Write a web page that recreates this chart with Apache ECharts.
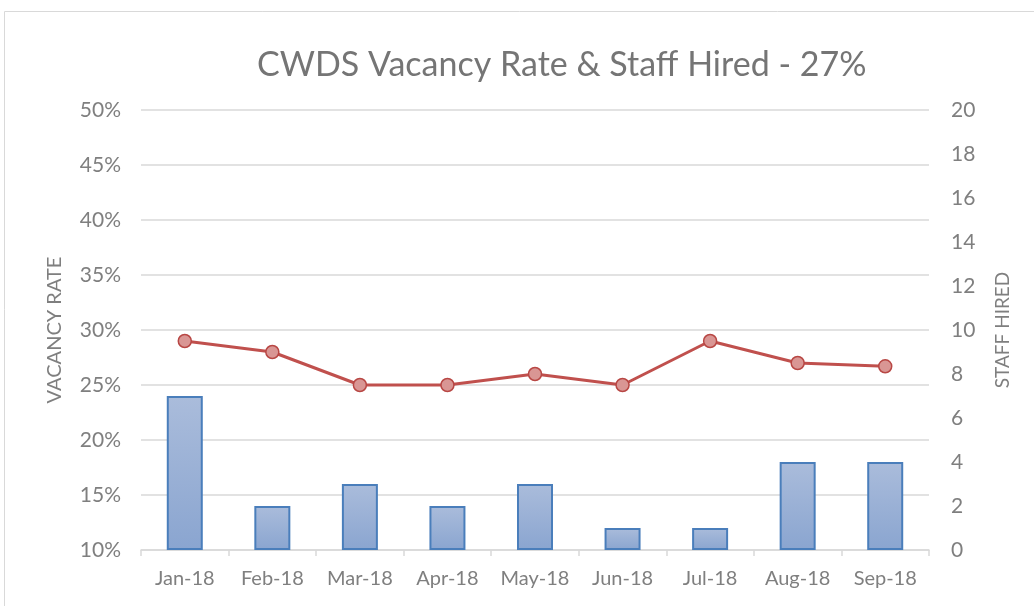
<!DOCTYPE html>
<html>
<head>
<meta charset="utf-8">
<script src="https://cdn.jsdelivr.net/npm/echarts@6/dist/echarts.min.js"></script>
<style>
  html, body { margin: 0; padding: 0; background: #fff; }
  #main { width: 1034px; height: 606px; }
</style>
</head>
<body>
<div id="main"></div>
<script>
const months = ["Jan-18", "Feb-18", "Mar-18", "Apr-18", "May-18", "Jun-18", "Jul-18", "Aug-18", "Sep-18"];
const vacancyRate = [29, 28, 25, 25, 26, 25, 29, 27, 26.7];
const staffHired = [7, 2, 3, 2, 3, 1, 1, 4, 4];

const font = "Lato";
const grey = "#7f7f7f";

const chart = echarts.init(document.getElementById("main"));

const option = {
  animation: false,
  textStyle: { fontFamily: font },
  title: {
    text: "CWDS Vacancy Rate & Staff Hired - 27%",
    left: 252,
    top: 43,
    textStyle: { fontFamily: font, fontSize: 34, fontWeight: "normal", color: "#757575" }
  },
  graphic: [{
    type: "rect",
    shape: { x: 4.5, y: 11.5, width: 1100, height: 700 },
    style: { fill: "none", stroke: "#d9d9d9", lineWidth: 1 },
    silent: true
  }],
  grid: { left: 141, right: 105, top: 110, bottom: 56 },
  xAxis: {
    type: "category",
    data: months,
    axisLine: { lineStyle: { color: "#d9d9d9", width: 1.5 } },
    axisTick: { show: true, length: 6, lineStyle: { color: "#d9d9d9", width: 1.5 } },
    axisLabel: { color: grey, fontSize: 20, margin: 19, interval: 0, hideOverlap: false, fontFamily: font }
  },
  yAxis: [{
    type: "value",
    min: 10, max: 50, interval: 5,
    name: "VACANCY RATE",
    nameLocation: "middle",
    nameRotate: 90,
    nameGap: 76,
    nameTextStyle: { color: grey, fontSize: 20, fontFamily: font },
    axisLine: { show: false },
    axisTick: { show: false },
    axisLabel: { color: grey, fontSize: 21, margin: 20, formatter: "{value}%", fontFamily: font },
    splitLine: { lineStyle: { color: "#d9d9d9", width: 1.5 } }
  }, {
    type: "value",
    min: 0, max: 20, interval: 2,
    name: "STAFF HIRED",
    nameLocation: "middle",
    nameRotate: 90,
    nameGap: 64,
    nameTextStyle: { color: grey, fontSize: 19, fontFamily: font },
    axisLine: { show: false },
    axisTick: { show: false },
    axisLabel: { color: grey, fontSize: 21, margin: 22, fontFamily: font },
    splitLine: { show: false }
  }],
  series: [{
    name: "Staff Hired",
    type: "bar",
    yAxisIndex: 1,
    data: staffHired,
    barWidth: 36,
    itemStyle: {
      color: new echarts.graphic.LinearGradient(0, 0, 0, 1, [
        { offset: 0, color: "#aabcdb" },
        { offset: 1, color: "#8aa5d0" }
      ]),
      borderColor: "#4a7ebb",
      borderWidth: 2
    },
    z: 2
  }, {
    name: "Vacancy Rate",
    type: "line",
    yAxisIndex: 0,
    data: vacancyRate,
    symbol: "circle",
    symbolSize: 13,
    lineStyle: { color: "#c0504d", width: 3 },
    itemStyle: { color: "#d99694", borderColor: "#b84744", borderWidth: 1.5 },
    z: 3
  }]
};

chart.setOption(option);
</script>
</body>
</html>
